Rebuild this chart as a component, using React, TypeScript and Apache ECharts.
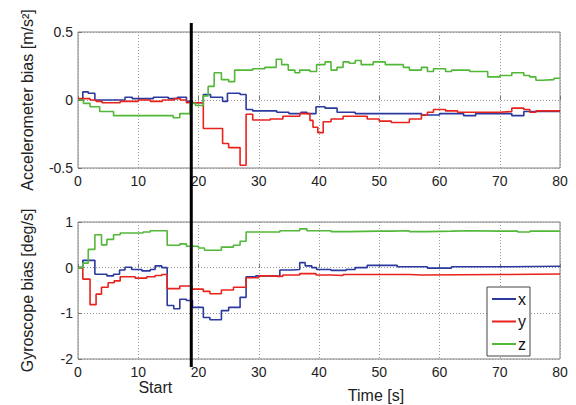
import React, { useEffect, useRef } from "react";
import * as echarts from "echarts";

// Step-wise bias estimates: [time (s), value] — value holds until next time
const accelX: [number, number][] = [
  [0, 0], [0.8, 0.06], [1.7, 0.05], [2.8, 0], [7.8, 0.02], [9, 0.01], [12.5, 0.02], [15, 0.01], [16.5, 0.02], [18, -0.01],
  [19, -0.02], [20.8, 0.04], [22, 0.02], [24, -0.01], [24.8, 0.05], [26.9, 0.04], [27.9, -0.07], [29, -0.08], [33, -0.09],
  [35, -0.1], [37, -0.09], [38, -0.1], [39.5, -0.05], [41, -0.06], [43, -0.09], [46, -0.1], [57, -0.11], [60, -0.1],
  [64, -0.115], [66, -0.1], [72, -0.115], [74, -0.085], [80, -0.085],
];
const accelY: [number, number][] = [
  [0, 0.01], [2, 0], [3, -0.01], [4, -0.02], [7, -0.01], [10, 0], [12, -0.01], [14, 0], [16, 0.01], [17, 0], [18, -0.02],
  [20.8, -0.21], [24, -0.32], [25, -0.35], [26.9, -0.48], [27.9, -0.105], [29, -0.147], [31.9, -0.14], [34, -0.12],
  [36.8, -0.1], [38.5, -0.15], [39, -0.2], [39.8, -0.24], [40.7, -0.16], [42, -0.14], [44, -0.12], [48, -0.14],
  [50, -0.155], [52, -0.165], [55, -0.14], [57, -0.11], [58, -0.09], [59, -0.07], [61, -0.08], [63, -0.09], [70, -0.085],
  [72, -0.06], [74, -0.07], [75, -0.09], [76, -0.08], [80, -0.08],
];
const accelZ: [number, number][] = [
  [0, 0], [0.9, -0.025], [2, -0.05], [3.6, -0.085], [5.9, -0.115], [15.8, -0.13], [16.9, -0.1], [18.6, -0.025],
  [19.5, -0.04], [20.8, 0.03], [21.6, 0.1], [22.6, 0.2], [23.8, 0.15], [25, 0.135], [26, 0.22], [29, 0.23], [31, 0.24],
  [32.9, 0.3], [33.8, 0.26], [34.9, 0.22], [36, 0.2], [36.8, 0.22], [38.5, 0.21], [39.6, 0.26], [41, 0.28], [42, 0.22],
  [43, 0.24], [44, 0.28], [45, 0.27], [46, 0.29], [47, 0.26], [49, 0.28], [51, 0.26], [54, 0.24], [55, 0.22], [57, 0.24],
  [58, 0.21], [59, 0.23], [61, 0.21], [62, 0.22], [65, 0.21], [68, 0.17], [70, 0.18], [72, 0.2], [74, 0.18], [75, 0.17],
  [76, 0.145], [77, 0.15], [79, 0.16], [80, 0.16],
];
const gyroX: [number, number][] = [
  [0, 0], [0.8, 0.16], [2.8, -0.145], [4.8, -0.18], [5.9, -0.145], [6.9, -0.05], [7.8, 0.01], [8.9, -0.04],
  [10.6, -0.07], [12, -0.04], [12.8, 0.04], [13.9, 0], [14.8, -0.83], [15.9, -0.9], [16.9, -0.69], [18, -0.72],
  [19, -0.87], [20.8, -1.09], [21.9, -1.14], [23.8, -0.94], [25, -0.87], [26.9, -0.65], [27.9, -0.2], [29.5, -0.18],
  [31.9, -0.19], [33.5, -0.05], [35.5, -0.04], [36.8, 0.11], [37.7, 0.04], [38.8, 0], [39.6, -0.04], [42, -0.06],
  [44.5, -0.04], [46, 0.0], [48, 0.05], [53, 0.02], [58, -0.01], [62, 0.02], [70, 0.03], [80, 0.04],
];
const gyroY: [number, number][] = [
  [0, 0], [0.8, -0.25], [2, -0.81], [3, -0.58], [3.9, -0.43], [5, -0.33], [6, -0.29], [7, -0.2], [9.5, -0.23],
  [11.4, -0.2], [12.8, -0.17], [13.9, -0.15], [14.8, -0.46], [16.9, -0.4], [18.9, -0.47], [20.8, -0.52], [21.9, -0.57],
  [23.8, -0.49], [25.8, -0.43], [27.9, -0.22], [30, -0.18], [32, -0.19], [34, -0.16], [36.8, -0.13], [39.5, -0.16],
  [42, -0.17], [44, -0.15], [55, -0.16], [57, -0.15], [70, -0.14], [80, -0.14],
];
const gyroZ: [number, number][] = [
  [0, 0], [0.8, 0.1], [1.7, 0.4], [2.8, 0.72], [3.9, 0.5], [4.8, 0.62], [5.9, 0.72], [7, 0.76], [10.8, 0.78],
  [12, 0.81], [14.8, 0.49], [16.9, 0.52], [18, 0.47], [20, 0.43], [21, 0.38], [23.8, 0.45], [25.8, 0.49], [26.9, 0.58],
  [27.9, 0.78], [33.5, 0.81], [36.8, 0.85], [38, 0.81], [42, 0.79], [45, 0.8], [50, 0.8], [52, 0.81], [55, 0.79],
  [58, 0.8], [62, 0.81], [65, 0.8], [70, 0.8], [73, 0.78], [75, 0.8], [80, 0.8],
];

const startTime = 18.8;
const xTicks = { min: 0, max: 80, interval: 10 };
const accelTicks = { min: -0.5, max: 0.5, interval: 0.5 };
const gyroTicks = { min: -2, max: 1, interval: 1 };
const seriesNames = ["x", "y", "z"];
const colors = ["#2b3a9f", "#e8231c", "#52b838"];

const FONT = "Liberation Sans, Arial, sans-serif";

export default function App() {
  const ref = useRef<HTMLDivElement>(null);
  useEffect(() => {
    if (!ref.current) return;
    const chart = echarts.init(ref.current, undefined, { renderer: "svg" });
    const grids = [
      { left: 78, top: 32, width: 482, height: 136 },
      { left: 78, top: 222, width: 482, height: 137 },
    ];
    const xAxis = grids.map((_, i) => ({
      type: "value",
      gridIndex: i,
      ...xTicks,
      axisLine: { show: false },
      axisTick: { show: true, inside: true, length: 4, lineStyle: { color: "#777" } },
      axisLabel: { color: "#222", fontSize: 14, fontFamily: FONT, margin: 6 },
      splitLine: { show: true, lineStyle: { type: [1, 2], color: "#999" } },
    }));
    const yAxis = [
      { ticks: accelTicks, name: "Accelerometer bias [m/s²]" },
      { ticks: gyroTicks, name: "Gyroscope bias [deg/s]" },
    ].map((a, i) => ({
      type: "value",
      gridIndex: i,
      ...a.ticks,
      name: a.name,
      nameLocation: "middle",
      nameGap: 43,
      nameTextStyle: { color: "#222", fontSize: 16, fontFamily: FONT },
      axisLine: { show: false },
      axisTick: { show: true, inside: true, length: 4, lineStyle: { color: "#777" } },
      axisLabel: { color: "#222", fontSize: 14, fontFamily: FONT, margin: 5 },
      splitLine: { show: true, lineStyle: { type: [1, 2], color: "#999" } },
    }));
    const groups = [
      [accelX, accelY, accelZ],
      [gyroX, gyroY, gyroZ],
    ];
    const series: any[] = [];
    groups.forEach((g, gi) =>
      g.forEach((data, si) =>
        series.push({
          type: "line",
          name: seriesNames[si],
          xAxisIndex: gi,
          yAxisIndex: gi,
          data,
          step: "end",
          symbol: "none",
          color: colors[si],
          lineStyle: { width: 1.6, color: colors[si] },
          z: 3,
        })
      )
    );
    chart.setOption({
      animation: false,
      backgroundColor: "#fff",
      grid: grids.map((g) => ({ ...g, show: true, borderColor: "#808080", borderWidth: 1, backgroundColor: "transparent" })),
      xAxis,
      yAxis,
      legend: {
        data: seriesNames,
        orient: "vertical",
        left: 487,
        top: 287,
        padding: [4, 4, 4, 5],
        itemGap: 6.5,
        itemWidth: 24,
        itemHeight: 2,
        icon: "rect",
        borderColor: "#444",
        borderWidth: 1,
        borderRadius: 0,
        backgroundColor: "#fff",
        textStyle: { color: "#111", fontSize: 16, fontFamily: FONT, padding: [0, 0, 0, -3] },
        z: 10,
      },
      series,
    });
    const top = chart.convertToPixel({ gridIndex: 0 }, [startTime, 0.5]) as number[];
    const bottom = chart.convertToPixel({ gridIndex: 1 }, [startTime, -2]) as number[];
    chart.setOption({
      graphic: [
        {
          type: "line",
          shape: { x1: top[0], y1: top[1] - 9, x2: bottom[0], y2: bottom[1] + 8 },
          style: { stroke: "#000", lineWidth: 3 },
          z: 20,
        },
        {
          type: "text",
          x: top[0] - 36,
          y: 387,
          style: { text: "Start", fontSize: 16, fontFamily: FONT, fill: "#222", align: "center", verticalAlign: "middle" },
          z: 20,
        },
        {
          type: "text",
          x: 376,
          y: 395,
          style: { text: "Time [s]", fontSize: 16, fontFamily: FONT, fill: "#222", align: "center", verticalAlign: "middle" },
          z: 20,
        },
      ],
    });
    return () => chart.dispose();
  }, []);
  return <div ref={ref} style={{ width: 576, height: 405, position: "absolute", left: 0, top: 0 }} />;
}
